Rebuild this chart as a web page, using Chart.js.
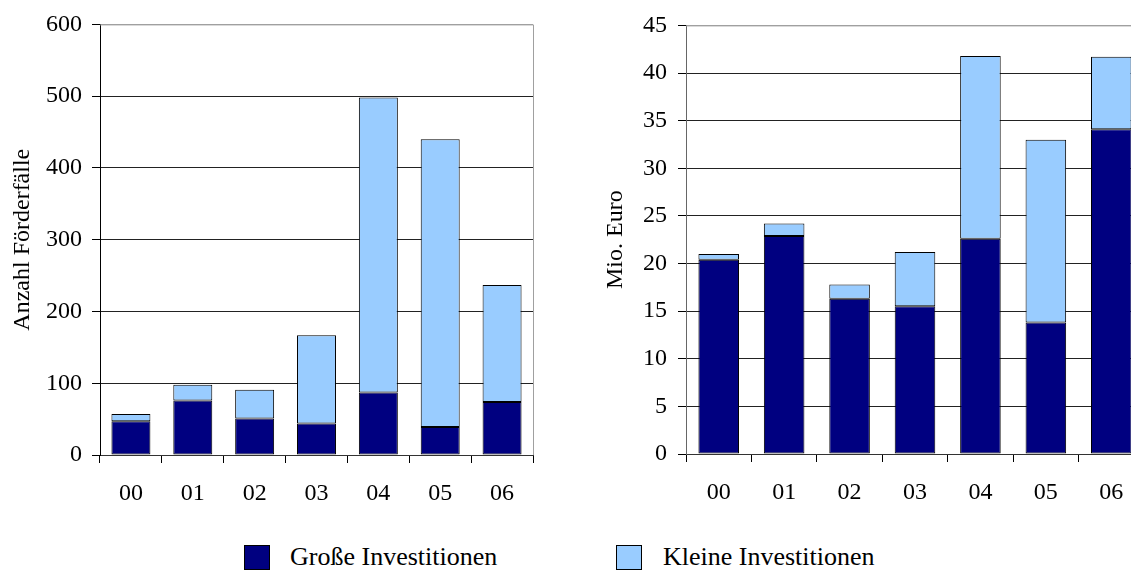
<!DOCTYPE html>
<html>
<head>
<meta charset="utf-8">
<script src="https://cdn.jsdelivr.net/npm/chart.js@4.4.1/dist/chart.umd.min.js"></script>
<style>
  html, body { margin: 0; padding: 0; background: #fff; overflow: hidden; width: 1131px; height: 570px; }
  #wrap { position: relative; width: 1131px; height: 570px; overflow: hidden; }
  #c1 { position: absolute; left: 0; top: 0; }
  #c2 { position: absolute; left: 560px; top: 0; }
  .sw { position: absolute; top: 545px; width: 24px; height: 23px; border: 1px solid #000; }
  .lt { position: absolute; top: 541px; line-height: 32px; font-family: 'Liberation Serif', 'Times New Roman', serif; font-size: 26px; color: #000; white-space: nowrap; }
</style>
</head>
<body>
<div id="wrap">
  <canvas id="c1" width="560" height="520"></canvas>
  <canvas id="c2" width="600" height="520"></canvas>
  <div class="sw" style="left:244px;background:#000080"></div>
  <div class="lt" style="left:290px">Große Investitionen</div>
  <div class="sw" style="left:616px;background:#99ccff"></div>
  <div class="lt" style="left:663px">Kleine Investitionen</div>
</div>
<script>
// Jahre (20xx)
const years = ['00', '01', '02', '03', '04', '05', '06'];
const seriesNames = ['Große Investitionen', 'Kleine Investitionen'];

// Anzahl Förderfälle
const casesLarge = [47, 76, 51, 44, 87, 39, 74];
const casesSmall = [10, 22, 40, 123, 411, 401, 163];

// Fördervolumen in Mio. Euro
const euroLarge = [20.4, 22.9, 16.3, 15.5, 22.6, 13.8, 34.1];
const euroSmall = [0.6, 1.3, 1.5, 5.7, 19.2, 19.2, 7.6];

const COLOR_LARGE = '#000080';
const COLOR_SMALL = '#99ccff';
const FONT = { family: "'Liberation Serif', 'Times New Roman', serif", size: 24 };

// grey frame on top and right of the plot area
const plotFrame = {
  id: 'plotFrame',
  beforeDatasetsDraw(chart) {
    const { ctx, chartArea: a } = chart;
    ctx.save();
    ctx.strokeStyle = '#a0a0a0';
    ctx.lineWidth = 1;
    ctx.beginPath();
    ctx.moveTo(a.left, a.top + 0.5);
    ctx.lineTo(Math.round(a.right) + 0.5, a.top + 0.5);
    ctx.lineTo(Math.round(a.right) + 0.5, a.bottom);
    ctx.stroke();
    ctx.restore();
  }
};

function makeChart(canvas, large, small, cfg) {
  return new Chart(canvas, {
    type: 'bar',
    data: {
      labels: years,
      datasets: [
        { label: seriesNames[0], data: large, backgroundColor: COLOR_LARGE },
        { label: seriesNames[1], data: small, backgroundColor: COLOR_SMALL }
      ]
    },
    options: {
      responsive: false,
      animation: false,
      devicePixelRatio: 1,
      layout: { padding: cfg.padding },
      datasets: {
        bar: {
          borderColor: '#000',
          borderWidth: 1,
          borderSkipped: false,
          categoryPercentage: 1,
          barPercentage: cfg.barPct
        }
      },
      plugins: { legend: { display: false }, tooltip: { enabled: false } },
      scales: {
        x: {
          stacked: true,
          offset: true,
          afterFit: s => { s.height = cfg.xHeight; },
          grid: { drawOnChartArea: false, drawTicks: true, tickLength: 8, color: '#000', offset: true },
          border: { display: true, color: '#333', width: 1 },
          ticks: { color: '#000', font: FONT, padding: 16, maxRotation: 0 }
        },
        y: {
          stacked: true,
          min: 0,
          max: cfg.max,
          afterFit: s => { s.width = cfg.yWidth; },
          grid: {
            color: c => (c.tick && c.tick.value === cfg.max) ? '#a0a0a0' : '#222',
            tickColor: '#000',
            tickLength: 8,
            drawTicks: true
          },
          border: { display: true, color: cfg.axisColor, width: 1 },
          ticks: { stepSize: cfg.step, color: '#000', font: FONT, padding: cfg.tickPad },
          title: { display: true, text: cfg.title, color: '#000', font: FONT, padding: { top: cfg.titlePad, bottom: 0 } }
        }
      }
    },
    plugins: [plotFrame]
  });
}

makeChart(document.getElementById('c1'), casesLarge, casesSmall, {
  padding: { left: 0, right: 27, top: 23, bottom: 0 },
  xHeight: 65, yWidth: 100, max: 600, step: 100, tickPad: 10,
  titlePad: 8, title: 'Anzahl Förderfälle', barPct: 0.63, axisColor: '#000'
});

makeChart(document.getElementById('c2'), euroLarge, euroSmall, {
  padding: { left: 0, right: 16, top: 22, bottom: 0 },
  xHeight: 66, yWidth: 126, max: 45, step: 5, tickPad: 11,
  titlePad: 41.6, title: 'Mio. Euro', barPct: 0.62, axisColor: '#666'
});
</script>
</body>
</html>
